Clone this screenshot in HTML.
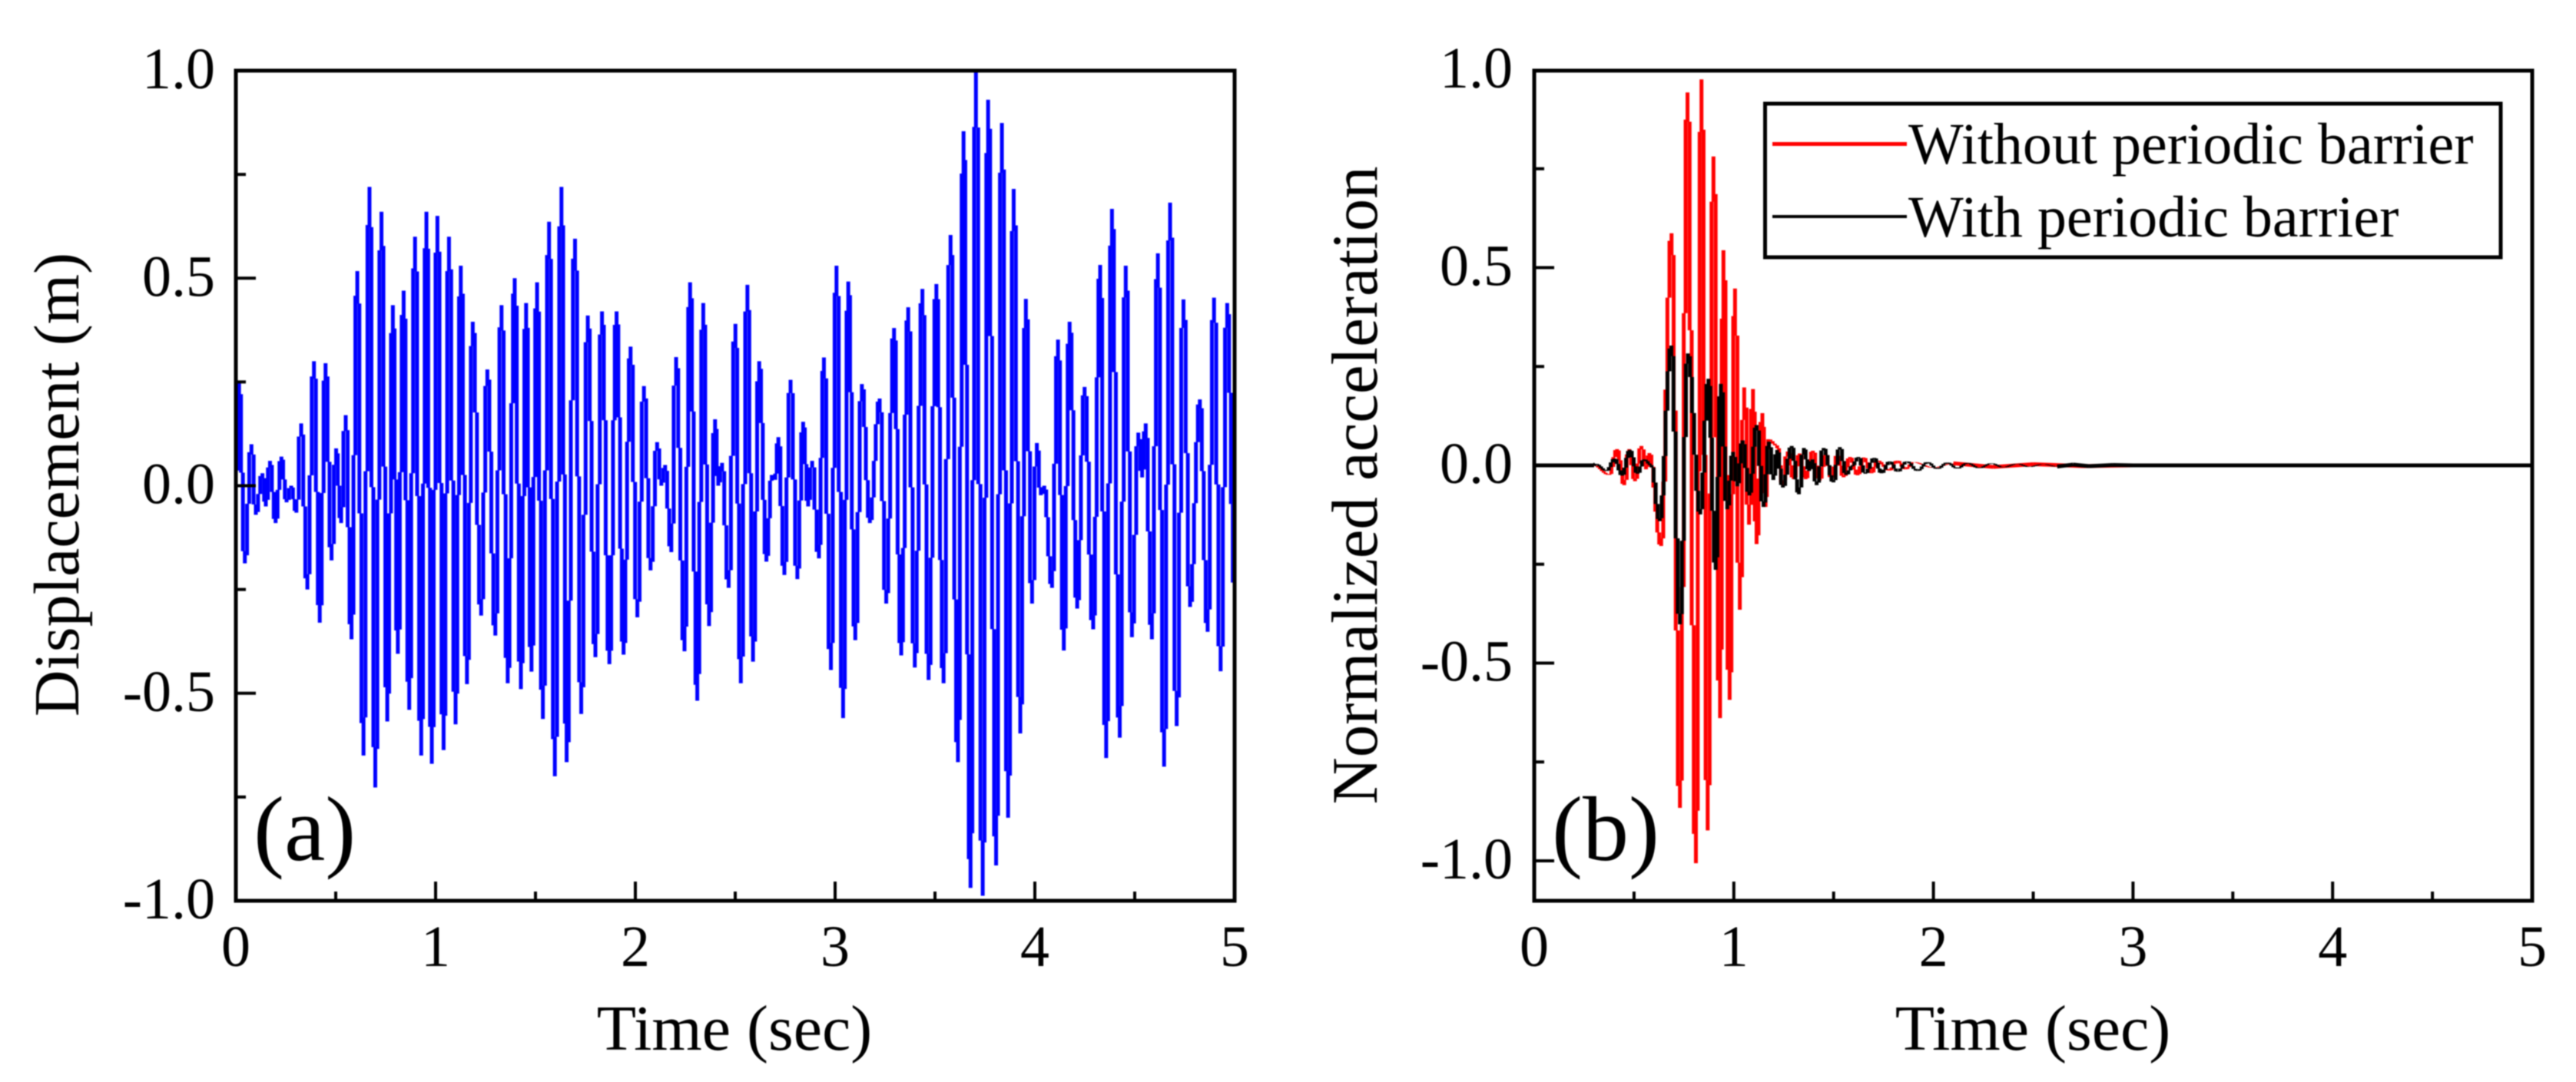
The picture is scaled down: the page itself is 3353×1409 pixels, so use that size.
<!DOCTYPE html>
<html lang="en">
<head>
<meta charset="utf-8">
<title>Displacement and normalized acceleration charts</title>
<style>
html,body{margin:0;padding:0;background:#fff;width:3353px;height:1409px;overflow:hidden}
svg{display:block;filter:blur(0.7px)}
text{font-family:"Liberation Serif",serif;fill:#000}
</style>
</head>
<body>
<svg id="figure" xmlns="http://www.w3.org/2000/svg" width="3353" height="1409" viewBox="0 0 3353 1409">
  <rect x="0" y="0" width="3353" height="1409" fill="#fff"/>
  <g id="panel-a">
    <g id="a-series"></g>
    <rect x="307" y="92" width="1300" height="1081" fill="none" stroke="#000" stroke-width="5"/>
    <g id="a-ticks"></g>
    <text x="956" y="1367" font-size="84" text-anchor="middle">Time (sec)</text>
    <text transform="translate(102,631) rotate(-90)" font-size="84" text-anchor="middle">Displacement (m)</text>
    <text x="330" y="1120" font-size="120">(a)</text>
  </g>
  <g id="panel-b">
    <g id="b-series"></g>
    <rect x="1997" y="92" width="1299" height="1081" fill="none" stroke="#000" stroke-width="5"/>
    <g id="b-ticks"></g>
    <text x="2646" y="1367" font-size="84" text-anchor="middle">Time (sec)</text>
    <text transform="translate(1792,632) rotate(-90)" font-size="84.8" text-anchor="middle">Normalized acceleration</text>
    <text x="2020" y="1120" font-size="120">(b)</text>
    <g>
      <rect x="2297.5" y="135" width="957.5" height="200" fill="#fff" stroke="#000" stroke-width="5"/>
      <line x1="2307" x2="2482" y1="187.5" y2="187.5" stroke="#ff0000" stroke-width="5"/>
      <text x="2484" y="213" font-size="76">Without periodic barrier</text>
      <line x1="2307" x2="2482" y1="282" y2="282" stroke="#000" stroke-width="4"/>
      <text x="2484" y="308" font-size="76">With periodic barrier</text>
    </g>
  </g>
</svg>
<script>
// Tick values and labels
const xMajorTicks = [0, 1, 2, 3, 4, 5];
const xMajorLabels = ['0', '1', '2', '3', '4', '5'];
const xMinorTicks = [0.5, 1.5, 2.5, 3.5, 4.5];
const yMajorTicksA = [1.0, 0.5, 0.0, -0.5, -1.0];
const yMajorLabelsA = ['1.0', '0.5', '0.0', '-0.5', '-1.0'];
const yMinorTicksA = [0.75, 0.25, -0.25, -0.75];
const yMajorTicksB = [1.0, 0.5, 0.0, -0.5, -1.0];
const yMajorLabelsB = ['1.0', '0.5', '0.0', '-0.5', '-1.0'];
const yMinorTicksB = [0.75, 0.25, -0.25, -0.75];

// Panel (a): displacement, crests and troughs
const dispPeakTimes = [0.016,0.078,0.133,0.171,0.228,0.277,0.327,0.391,0.449,0.502,0.550,0.608,0.669,0.729,0.786,0.840,0.897,0.954,1.009,1.067,1.126,1.186,1.259,1.330,1.396,1.453,1.508,1.568,1.630,1.698,1.762,1.833,1.906,1.976,2.043,2.109,2.149,2.204,2.274,2.340,2.399,2.434,2.501,2.561,2.620,2.683,2.716,2.777,2.840,2.885,2.944,3.007,3.066,3.134,3.223,3.295,3.366,3.437,3.507,3.578,3.643,3.705,3.766,3.835,3.894,3.955,4.010,4.047,4.116,4.174,4.249,4.327,4.386,4.455,4.518,4.555,4.616,4.677,4.744,4.826,4.897,4.963];
const dispPeakValues = [0.25,0.10,0.03,0.06,0.07,0.0,0.15,0.30,0.295,0.09,0.17,0.517,0.72,0.66,0.435,0.47,0.60,0.66,0.65,0.60,0.53,0.395,0.28,0.435,0.50,0.44,0.49,0.636,0.72,0.595,0.41,0.42,0.42,0.335,0.24,0.105,0.05,0.31,0.49,0.44,0.16,0.055,0.39,0.484,0.30,0.026,0.117,0.255,0.154,0.06,0.309,0.53,0.492,0.245,0.21,0.38,0.43,0.474,0.486,0.604,0.854,0.996,0.93,0.874,0.715,0.45,0.103,0.0,0.352,0.395,0.238,0.532,0.667,0.53,0.128,0.15,0.56,0.682,0.449,0.208,0.453,0.44];
const dispTroughTimes = [0.0,0.045,0.100,0.150,0.199,0.254,0.303,0.358,0.420,0.479,0.527,0.579,0.639,0.698,0.758,0.811,0.868,0.928,0.981,1.040,1.100,1.157,1.228,1.299,1.361,1.427,1.480,1.537,1.597,1.656,1.729,1.800,1.870,1.941,2.010,2.076,2.130,2.180,2.246,2.310,2.369,2.415,2.467,2.528,2.589,2.656,2.700,2.746,2.811,2.865,2.919,2.979,3.040,3.101,3.174,3.256,3.331,3.399,3.468,3.543,3.615,3.678,3.739,3.806,3.866,3.927,3.986,4.030,4.086,4.145,4.212,4.292,4.357,4.425,4.486,4.537,4.586,4.647,4.710,4.777,4.865,4.930,5.0];
const dispTroughValues = [0.0,-0.187,-0.07,-0.05,-0.09,-0.04,-0.065,-0.25,-0.33,-0.18,-0.09,-0.37,-0.65,-0.727,-0.568,-0.405,-0.54,-0.65,-0.67,-0.637,-0.575,-0.478,-0.313,-0.361,-0.476,-0.49,-0.448,-0.562,-0.70,-0.666,-0.55,-0.413,-0.43,-0.407,-0.317,-0.204,0.0,-0.16,-0.399,-0.518,-0.338,0.0,-0.246,-0.476,-0.424,-0.183,0.014,-0.215,-0.225,-0.05,-0.175,-0.444,-0.56,-0.372,-0.09,-0.284,-0.409,-0.438,-0.468,-0.476,-0.666,-0.969,-0.988,-0.915,-0.80,-0.597,-0.284,-0.023,-0.246,-0.397,-0.296,-0.346,-0.656,-0.607,-0.365,0.02,-0.37,-0.677,-0.579,-0.292,-0.352,-0.447,-0.26];

// Panel (b): normalized acceleration, without barrier
const redTimes = [0,0.30,0.377,0.415,0.451,0.476,0.505,0.537,0.560,0.577,0.636,0.688,0.730,0.768,0.810,0.838,0.869,0.898,0.931,0.948,0.979,1.006,1.030,1.052,1.076,1.096,1.114,1.143,1.159,1.172,1.217,1.245,1.27,1.30,1.33,1.36,1.396,1.43,1.46,1.49,1.52,1.55,1.582,1.62,1.65,1.69,1.72,1.78,1.82,1.86,1.9,2.0,2.1,2.3,2.5,2.75,3.0,5];
const redValues = [0,0,-0.024,0.041,-0.05,0.041,-0.04,0.049,-0.01,0.031,-0.204,0.587,-0.866,0.943,-1.006,0.976,-0.923,0.781,-0.639,0.544,-0.593,0.447,-0.365,0.197,-0.15,0.193,-0.199,0.132,-0.105,0.066,0.05,-0.05,0.035,-0.035,0.03,-0.035,0.037,-0.038,0.03,-0.034,0.028,-0.03,0.021,-0.025,0.02,-0.02,0.012,-0.013,0.012,-0.01,0.008,-0.006,0.005,-0.004,0.003,-0.002,0,0];

// Panel (b): normalized acceleration, with barrier
const blackTimes = [0,0.30,0.306,0.364,0.403,0.441,0.479,0.518,0.550,0.588,0.629,0.687,0.730,0.770,0.832,0.873,0.909,0.935,0.967,0.996,1.018,1.044,1.078,1.114,1.149,1.176,1.198,1.217,1.246,1.290,1.326,1.351,1.377,1.394,1.415,1.450,1.499,1.531,1.563,1.595,1.624,1.659,1.704,1.740,1.781,1.822,1.867,1.922,1.97,2.02,2.07,2.12,2.17,2.23,2.29,2.35,2.42,2.48,2.55,2.62,2.70,2.78,2.90,3.0,5];
const blackValues = [0,0,0.004,-0.014,0.017,-0.026,0.039,-0.021,0.015,0,-0.141,0.303,-0.402,0.283,-0.124,0.219,-0.264,0.206,-0.111,0.034,-0.053,0.063,-0.076,0.102,-0.105,0.06,-0.037,0.039,-0.056,0.049,-0.073,0.044,-0.014,0.015,-0.05,0.044,-0.043,0.046,-0.024,-0.001,0.021,-0.021,0.019,-0.02,0.01,-0.016,0.01,-0.014,0.008,-0.009,0.007,-0.008,0.006,-0.007,0.005,-0.005,0.004,-0.004,0.003,-0.003,0.002,-0.002,0.001,0,0];

const SVG_NS = 'http://www.w3.org/2000/svg';
const STEP_GRID_PX = 2.6;

function axisXA(t) { return 307 + (t / 5) * 1300; }
function axisYA(v) { return 632.5 - v * 540.5; }
function axisXB(t) { return 1997 + (t / 5) * 1299; }
function axisYB(v) { return 606 - v * 515; }

function mergeByTime(timesA, valuesA, timesB, valuesB) {
  const merged = [];
  timesA.forEach((t, i) => merged.push([t, valuesA[i]]));
  timesB.forEach((t, i) => merged.push([t, valuesB[i]]));
  merged.sort((p, q) => p[0] - q[0]);
  return merged;
}

function zipSeries(times, values) {
  return times.map((t, i) => [t, values[i]]);
}

// Renders the line between read extrema as near-vertical bars, like the coarse raster plot in the figure.
function barCurvePath(pairs, xFn, yFn) {
  const parts = [];
  for (let idx = 1; idx < pairs.length; idx++) {
    const x0 = xFn(pairs[idx - 1][0]);
    const y0 = yFn(pairs[idx - 1][1]);
    const x1 = xFn(pairs[idx][0]);
    const y1 = yFn(pairs[idx][1]);
    const sections = Math.max(2, Math.round((x1 - x0) / STEP_GRID_PX));
    if (Math.abs(y1 - y0) < 3 || x1 - x0 > 32) {
      parts.push('M' + x0.toFixed(2) + ' ' + y0.toFixed(2) + 'L' + x1.toFixed(2) + ' ' + y1.toFixed(2));
      continue;
    }
    let start = y0;
    for (let s = 0; s <= sections; s++) {
      const frac = s === sections ? 1 : (s + 0.5) / sections;
      const end = y0 + (y1 - y0) * (1 - Math.cos(Math.PI * frac)) / 2;
      const x = x0 + (x1 - x0) * s / sections;
      parts.push('M' + x.toFixed(2) + ' ' + start.toFixed(2) + 'L' + x.toFixed(2) + ' ' + end.toFixed(2));
      start = end;
    }
  }
  return parts.join('');
}

function makeTick(parent, x1, y1, x2, y2) {
  const el = document.createElementNS(SVG_NS, 'line');
  el.setAttribute('x1', x1);
  el.setAttribute('y1', y1);
  el.setAttribute('x2', x2);
  el.setAttribute('y2', y2);
  el.setAttribute('stroke', '#000');
  el.setAttribute('stroke-width', '4');
  parent.appendChild(el);
  return el;
}

function makeLabel(parent, x, y, anchor, content) {
  const el = document.createElementNS(SVG_NS, 'text');
  el.setAttribute('x', x);
  el.setAttribute('y', y);
  el.setAttribute('font-size', '76');
  el.setAttribute('text-anchor', anchor);
  el.textContent = content;
  parent.appendChild(el);
  return el;
}

function drawAxes(group, xFn, yFn, leftX, bottomY, labelRightX, yMajor, yLabels, yMinor) {
  xMajorTicks.forEach((t, i) => {
    if (t > 0 && t < 5) {
      const tick = makeTick(group, xFn(t), bottomY, xFn(t), bottomY - 25);
      
      
    }
    const label = makeLabel(group, xFn(t), 1258, 'middle', xMajorLabels[i]);
    
    
  });
  xMinorTicks.forEach(t => {
    const tick = makeTick(group, xFn(t), bottomY, xFn(t), bottomY - 12);
    
    
  });
  yMajor.forEach((v, i) => {
    const y = yFn(v);
    if (y > 100 && y < 1165) {
      const tick = makeTick(group, leftX, y, leftX + 26, y);
      
      
    }
    const label = makeLabel(group, labelRightX, y + 23, 'end', yLabels[i]);
    
    
  });
  yMinor.forEach(v => {
    const y = yFn(v);
    const tick = makeTick(group, leftX, y, leftX + 13, y);
    
    
  });
}

function drawSeries(parent, pairs, xFn, yFn, color, width) {
  const line = document.createElementNS(SVG_NS, 'path');
  line.setAttribute('d', barCurvePath(pairs, xFn, yFn));
  line.setAttribute('fill', 'none');
  line.setAttribute('stroke', color);
  line.setAttribute('stroke-width', width);
  line.setAttribute('stroke-linecap', 'butt');
  parent.appendChild(line);
  return line;
}

const groupSeriesA = document.getElementById('a-series');
const groupSeriesB = document.getElementById('b-series');

const displacementLine = drawSeries(groupSeriesA, mergeByTime(dispPeakTimes, dispPeakValues, dispTroughTimes, dispTroughValues), axisXA, axisYA, '#0000ff', 5);



const redLine = drawSeries(groupSeriesB, zipSeries(redTimes, redValues), axisXB, axisYB, '#ff0000', 5);



const blackLine = drawSeries(groupSeriesB, zipSeries(blackTimes, blackValues), axisXB, axisYB, '#000000', 5);



drawAxes(document.getElementById('a-ticks'), axisXA, axisYA, 307, 1173, 280, yMajorTicksA, yMajorLabelsA, yMinorTicksA);
drawAxes(document.getElementById('b-ticks'), axisXB, axisYB, 1997, 1173, 1969, yMajorTicksB, yMajorLabelsB, yMinorTicksB);
</script>
</body>
</html>
